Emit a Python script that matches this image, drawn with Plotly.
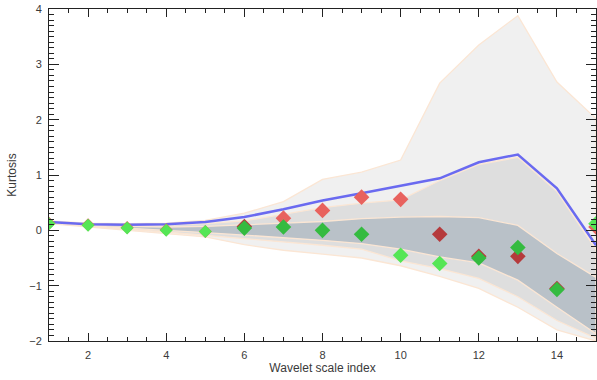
import plotly.graph_objects as go

scale = list(range(1, 16))

blue_line = [0.15, 0.11, 0.10, 0.11, 0.15, 0.24, 0.38, 0.54, 0.67, 0.80, 0.94, 1.23, 1.37, 0.76, -0.27]

outer_hi = [0.17, 0.13, 0.12, 0.13, 0.18, 0.31, 0.52, 0.92, 1.05, 1.27, 2.66, 3.35, 3.88, 2.68, 2.02]
outer_lo = [0.12, 0.06, 0.00, -0.06, -0.12, -0.26, -0.36, -0.43, -0.50, -0.64, -0.83, -1.05, -1.39, -1.80, -2.00]
mid_hi = [0.15, 0.12, 0.10, 0.10, 0.12, 0.17, 0.29, 0.41, 0.49, 0.55, 0.90, 1.19, 1.32, 0.70, -0.35]
mid_lo = [0.13, 0.07, 0.02, -0.03, -0.08, -0.14, -0.21, -0.27, -0.34, -0.55, -0.69, -0.87, -1.20, -1.63, -1.95]
inner_hi = [0.15, 0.10, 0.07, 0.06, 0.07, 0.10, 0.12, 0.16, 0.21, 0.24, 0.25, 0.23, 0.09, -0.42, -0.85]
inner_lo = [0.14, 0.08, 0.04, 0.00, -0.04, -0.09, -0.13, -0.18, -0.24, -0.34, -0.48, -0.59, -0.90, -1.39, -1.87]

red_vals = [0.13, 0.10, 0.05, 0.01, -0.02, 0.07, 0.22, 0.36, 0.60, 0.56, -0.07, -0.47, -0.47, -1.05, 0.06]
green_vals = [0.12, 0.09, 0.04, 0.00, -0.02, 0.04, 0.06, 0.00, -0.07, -0.45, -0.60, -0.50, -0.31, -1.07, 0.12]

x_ticks = [2, 4, 6, 8, 10, 12, 14]
y_ticks = [-2, -1, 0, 1, 2, 3, 4]
y_tick_text = ["\u22122", "\u22121", "0", "1", "2", "3", "4"]

EDGE = "#fbe6d4"
fig = go.Figure()


def band(lo, hi, color):
    fig.add_trace(go.Scatter(
        x=scale + scale[::-1], y=hi + lo[::-1], fill="toself", fillcolor=color,
        mode="lines", line=dict(color=EDGE, width=1.3), hoverinfo="skip", showlegend=False))


band(outer_lo, outer_hi, "#f0f0f0")
band(mid_lo, mid_hi, "#dedede")
band(inner_lo, inner_hi, "#b9c1c8")

fig.add_trace(go.Scatter(x=scale, y=blue_line, mode="lines",
                         line=dict(color="#6a6af0", width=2.5), showlegend=False))


def colors(vals, dark, light):
    out = []
    for i, v in enumerate(vals):
        if i >= 5 and inner_lo[i] <= v <= inner_hi[i]:
            out.append(dark)
        else:
            out.append(light)
    return out


def sizes(vals):
    return [10 if i < 5 else 12 for i in range(len(vals))]


fig.add_trace(go.Scatter(x=scale, y=red_vals, mode="markers",
                         marker=dict(symbol="diamond", size=sizes(red_vals), opacity=1,
                                     color=colors(red_vals, "#b53a3c", "#e8625e"),
                                     line=dict(width=0)),
                         showlegend=False))
fig.add_trace(go.Scatter(x=scale, y=green_vals, mode="markers",
                         marker=dict(symbol="diamond", size=sizes(green_vals), opacity=1,
                                     color=colors(green_vals, "#34bb40", "#55e655"),
                                     line=dict(width=0)),
                         showlegend=False))

tick_font = dict(family="Liberation Sans, Arial", size=11, color="#3a3a3a")
title_font = dict(family="Liberation Sans, Arial", size=12, color="#3a3a3a")
fig.update_layout(
    width=597, height=380,
    margin=dict(l=49, r=1, t=9, b=39),
    paper_bgcolor="white", plot_bgcolor="white",
    font=tick_font,
    xaxis=dict(range=[1, 15], tickvals=x_ticks, ticks="inside", ticklen=8, tickcolor="#222",
               showline=True, linecolor="#222", linewidth=1, mirror="allticks",
               showgrid=False, zeroline=False, ticklabelstandoff=4, tickfont=tick_font,
               minor=dict(dtick=0.5, ticks="inside", ticklen=4, tickcolor="#222", showgrid=False),
               title=dict(text="Wavelet scale index", standoff=3, font=title_font)),
    yaxis=dict(range=[-2, 4], tickvals=y_ticks, ticktext=y_tick_text, ticks="inside", ticklen=10,
               tickcolor="#222", showline=True, linecolor="#222", linewidth=1, mirror="allticks",
               showgrid=False, zeroline=False, ticklabelstandoff=4, tickfont=tick_font,
               minor=dict(dtick=0.1, ticks="inside", ticklen=5, tickcolor="#222", showgrid=False),
               title=dict(text="Kurtosis", standoff=10, font=title_font)),
)

fig.write_html("out.html", config={"displayModeBar": False},
               post_script="document.body.style.margin='0';document.body.style.overflow='hidden';")
